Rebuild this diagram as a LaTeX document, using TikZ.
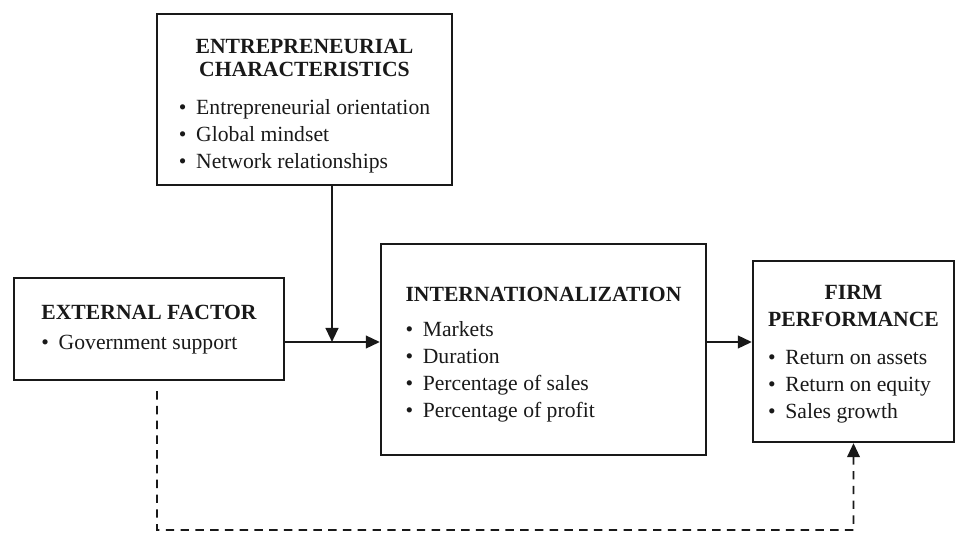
\documentclass[tikz,border=0pt]{standalone}
\usepackage{fontspec}
\setmainfont{Liberation Serif}
\usetikzlibrary{arrows.meta,positioning}
\newcommand{\bitem}[1]{\textbullet\hspace{0.45em}#1}
\newcommand{\sink}[2]{\raisebox{-#1}[\height][\depth]{#2}}

\begin{document}
\begin{tikzpicture}[x=0.025cm, y=-0.025cm, font=\fontsize{15.4}{19.2}\selectfont]
      \tikzset{
	  factor/.style={rectangle, draw=black!90, line width=1.6pt, inner sep=0pt, text=black!90},
	  flow/.style={-{Triangle[length=10pt,width=9pt]}, line width=1.6pt, draw=black!90},
	  link/.style={flow, line width=1.3pt, dash pattern=on 6pt off 4.5pt}
      }
      \useasboundingbox (0,0) rectangle (955,534);

      \node at (304.5, 99.5) [factor, minimum width=7.375cm, minimum height=4.275cm] (entre)
	    {\sink{0.15cm}{\begin{tabular}{@{}l@{}}
	      \multicolumn{1}{@{}c@{}}{\bfseries ENTREPRENEURIAL}\\[-3pt]
	      \multicolumn{1}{@{}c@{}}{\bfseries CHARACTERISTICS}\\[8pt]
	      \bitem{Entrepreneurial orientation}\\
	      \bitem{Global mindset}\\
	      \bitem{Network relationships}
	    \end{tabular}}};
      \node at (149, 329) [factor, minimum width=6.75cm, minimum height=2.55cm] (ext)
	    {\begin{tabular}{@{}l@{}}
	      \multicolumn{1}{@{}c@{}}{\bfseries EXTERNAL FACTOR}\\[2pt]
	      \bitem{Government support}
	    \end{tabular}};
      \node at (543.5, 349.5) [factor, minimum width=8.125cm, minimum height=5.275cm] (intl)
	    {\sink{0.12cm}{\begin{tabular}{@{}l@{}}
	      \multicolumn{1}{@{}c@{}}{\bfseries INTERNATIONALIZATION}\\[6pt]
	      \bitem{Markets}\\
	      \bitem{Duration}\\
	      \bitem{Percentage of sales}\\
	      \bitem{Percentage of profit}
	    \end{tabular}}};
      \node at (853.5, 351.5) [factor, minimum width=5.025cm, minimum height=4.525cm] (firm)
	    {\sink{0.05cm}{\begin{tabular}{@{}l@{}}
	      \multicolumn{1}{@{}c@{}}{\bfseries FIRM}\\
	      \multicolumn{1}{@{}c@{}}{\bfseries PERFORMANCE}\\[8pt]
	      \bitem{Return on assets}\\
	      \bitem{Return on equity}\\
	      \bitem{Sales growth}
	    \end{tabular}}};

      \coordinate (join) at (332, 342);
      \coordinate (dip) at (157, 530);
      \draw[flow] (ext.east |- join) -- (intl.west |- join);
      \draw[flow] (entre.south -| join) -- (join);
      \draw[flow] (intl.east |- join) -- (firm.west |- join);
      \draw[link] ([xshift=0.2cm, yshift=-0.25cm]ext.south) -- (dip) -| (firm.south);
\end{tikzpicture}
\end{document}
